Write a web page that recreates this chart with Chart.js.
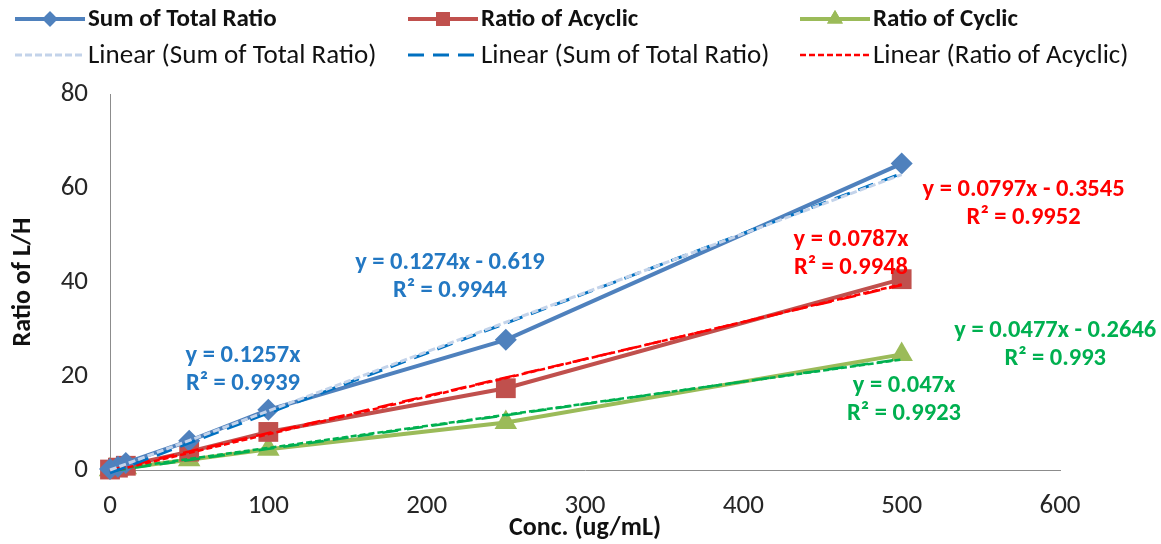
<!DOCTYPE html>
<html>
<head>
<meta charset="utf-8">
<script src="https://cdn.jsdelivr.net/npm/chart.js@4/dist/chart.umd.min.js"></script>
<style>
html,body{margin:0;padding:0;background:#fff;}
#wrap{width:1161px;height:544px;position:relative;}
</style>
</head>
<body>
<div id="wrap"><canvas id="c" width="1161" height="544"></canvas></div>
<script>
// ---- data ----
const conc = [0, 5, 10, 50, 100, 250, 500];
const sumTotal = [0.2, 0.7, 1.5, 6.2, 12.8, 27.7, 65.2];
const acyclic = [0.1, 0.5, 0.9, 3.9, 8.1, 17.4, 40.6];
const cyclic = [0.05, 0.2, 0.5, 2.2, 4.4, 10.1, 24.6];

const seriesNames = ['Sum of Total Ratio', 'Ratio of Acyclic', 'Ratio of Cyclic'];
const trendNames = ['Linear (Sum of Total Ratio)', 'Linear (Sum of Total Ratio)', 'Linear (Ratio of Acyclic)', 'Linear (Ratio of Acyclic)', 'Linear (Ratio of Cyclic)', 'Linear (Ratio of Cyclic)'];
const trendSlopes = [0.1257, 0.1274, 0.0797, 0.0787, 0.0477, 0.047];
const trendIntercepts = [0, -0.619, -0.3545, 0, -0.2646, 0];
const trendRange = [0, 500];
const trendEq = ['y = 0.1257x', 'y = 0.1274x - 0.619', 'y = 0.0797x - 0.3545', 'y = 0.0787x', 'y = 0.0477x - 0.2646', 'y = 0.047x'];
const trendR2 = ['R² = 0.9939', 'R² = 0.9944', 'R² = 0.9952', 'R² = 0.9948', 'R² = 0.993', 'R² = 0.9923'];
const xTicks = [0, 100, 200, 300, 400, 500, 600];
const yTicks = [0, 20, 40, 60, 80];

// ---- styling (kept separate from data) ----
const FONT = "Carlito, Lato, sans-serif";
const labelAnchors = [[84, 21.2], [214.7, 41.0], [577, 56.7], [468, 45.9], [597, 26.7], [501.5, 14.9]];
const labelColors = ['#2378C3', '#2378C3', '#FF0000', '#FF0000', '#00B050', '#00B050'];
const trendStyles = [
  {color: '#C3D3EA', dash: [7, 3], width: 3},
  {color: '#0070C0', dash: [16, 9], width: 3},
  {color: '#FF0000', dash: [6, 3], width: 2.5},
  {color: '#FF0000', dash: [16, 9], width: 2.5},
  {color: '#00B050', dash: [16, 9], width: 2.5},
  {color: '#00B050', dash: [6, 3], width: 2.5}
];

function pts(xs, ys) { return xs.map((x, i) => ({x: x, y: ys[i]})); }

const dataSets = [
  {label: seriesNames[0], data: pts(conc, sumTotal), borderColor: '#4F81BD', backgroundColor: '#4F81BD', pointStyle: 'rectRot', pointRadius: 11, borderWidth: 4, order: 1},
  {label: seriesNames[1], data: pts(conc, acyclic), borderColor: '#C0504D', backgroundColor: '#C0504D', pointStyle: 'rect', pointRadius: 14, borderWidth: 4, order: 1},
  {label: seriesNames[2], data: pts(conc, cyclic), borderColor: '#9BBB59', backgroundColor: '#9BBB59', pointStyle: 'triangle', pointRadius: 13, borderWidth: 4, order: 1}
].map(d => Object.assign(d, {showLine: true, pointBorderWidth: 0, clip: false, pointHoverRadius: d.pointRadius}));

const trendSets = trendSlopes.map((m, i) => ({
  label: trendNames[i],
  data: trendRange.map(x => ({x: x, y: m * x + trendIntercepts[i]})),
  borderColor: trendStyles[i].color,
  backgroundColor: trendStyles[i].color,
  borderDash: trendStyles[i].dash,
  borderWidth: trendStyles[i].width,
  showLine: true,
  pointRadius: 0,
  pointHoverRadius: 0,
  clip: false,
  order: 0
}));

const legendRows = [
  [{ds: 0, bold: true}, {ds: 1, bold: true}, {ds: 2, bold: true}],
  [{ds: 3, bold: false}, {ds: 4, bold: false}, {ds: 5, bold: false}]
];

const legendPlugin = {
  id: 'gridLegend',
  afterDraw(chart) {
    const ctx = chart.ctx;
    const colX = [15, 408, 800];
    const rowY = [19, 55];
    legendRows.forEach((row, r) => {
      row.forEach((e, c) => {
        const ds = chart.data.datasets[e.ds];
        const x0 = colX[c], y = rowY[r];
        const len = 70;
        ctx.save();
        ctx.strokeStyle = ds.borderColor;
        ctx.lineWidth = e.bold ? 4 : ds.borderWidth;
        ctx.setLineDash(ds.borderDash || []);
        ctx.beginPath();
        ctx.moveTo(x0, y);
        ctx.lineTo(x0 + len, y);
        ctx.stroke();
        ctx.setLineDash([]);
        if (ds.pointRadius > 0) {
          ctx.fillStyle = ds.backgroundColor;
          Chart.helpers.drawPoint(ctx, {pointStyle: ds.pointStyle, radius: ds.pointRadius * 0.7, borderWidth: 0, rotation: 0}, x0 + len / 2, y);
          ctx.fill();
        }
        ctx.fillStyle = '#111';
        ctx.textBaseline = 'middle';
        ctx.textAlign = 'left';
        ctx.font = (e.bold ? 'bold 25px ' : '27px ') + FONT;
        ctx.fillText(ds.label, x0 + len + 3, y + 1);
        ctx.restore();
      });
    });
  }
};

const eqPlugin = {
  id: 'eqLabels',
  afterDatasetsDraw(chart) {
    const ctx = chart.ctx;
    const xs = chart.scales.x, ys = chart.scales.y;
    ctx.save();
    ctx.font = 'bold 24.5px ' + FONT;
    ctx.textAlign = 'center';
    ctx.textBaseline = 'middle';
    trendEq.forEach((t, i) => {
      const px = xs.getPixelForValue(labelAnchors[i][0]);
      const py = ys.getPixelForValue(labelAnchors[i][1]);
      ctx.fillStyle = labelColors[i];
      ctx.fillText(t, px, py - 14);
      ctx.fillText(trendR2[i], px, py + 14);
    });
    ctx.restore();
  }
};

new Chart(document.getElementById('c'), {
  type: 'scatter',
  data: {datasets: dataSets.concat(trendSets)},
  options: {
    responsive: false,
    animation: false,
    events: [],
    layout: {padding: {top: 94, right: 101, left: 0, bottom: 0}},
    plugins: {legend: {display: false}, tooltip: {enabled: false}},
    scales: {
      x: {
        type: 'linear', min: 0, max: 600,
        afterBuildTicks: s => { s.ticks = xTicks.map(v => ({value: v})); },
        afterFit: s => { s.height = 74; },
        grid: {display: false, drawTicks: false},
        border: {display: true, color: '#8C8C8C', width: 1},
        ticks: {padding: 20, color: '#262626', font: {family: FONT, size: 27}},
        title: {display: true, text: 'Conc. (ug/mL)', color: '#111', font: {family: FONT, size: 26, weight: 'bold'}, padding: {top: 0, bottom: 0}}
      },
      y: {
        type: 'linear', min: 0, max: 80,
        afterBuildTicks: s => { s.ticks = yTicks.map(v => ({value: v})); },
        afterFit: s => { s.width = 110; },
        grid: {display: false, drawTicks: false},
        border: {display: true, color: '#8C8C8C', width: 1},
        ticks: {padding: 22, color: '#262626', font: {family: FONT, size: 27}},
        title: {display: true, text: 'Ratio of L/H', color: '#111', font: {family: FONT, size: 26, weight: 'bold'}, padding: {top: 8, bottom: 0}}
      }
    }
  },
  plugins: [legendPlugin, eqPlugin]
});
</script>
</body>
</html>
